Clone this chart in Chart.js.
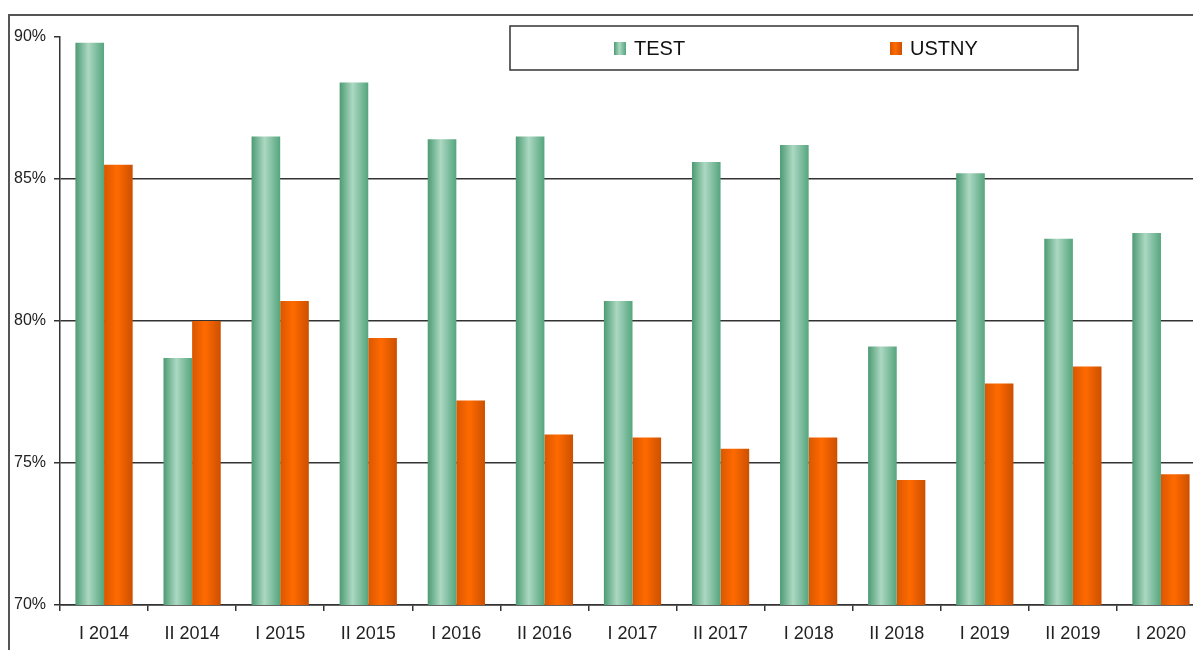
<!DOCTYPE html>
<html lang="pl">
<head>
    <meta charset="UTF-8">
    <title>TEST / USTNY</title>
    <script src="https://cdn.jsdelivr.net/npm/chart.js"></script>
    <style>
        body { margin: 0; overflow: hidden; background: #fff; width: 1193px; height: 650px; }
        #wrap { position: absolute; left: 0; top: 0; width: 1210px; height: 650px; }
    </style>
</head>
<body>
    <div id="wrap"><canvas id="chart"></canvas></div>
    <script>
        const categories = ['I 2014', 'II 2014', 'I 2015', 'II 2015', 'I 2016', 'II 2016', 'I 2017',
                            'II 2017', 'I 2018', 'II 2018', 'I 2019', 'II 2019', 'I 2020'];
        const testValues  = [89.8, 78.7, 86.5, 88.4, 86.4, 86.5, 80.7, 85.6, 86.2, 79.1, 85.2, 82.9, 83.1];
        const ustnyValues = [85.5, 80.0, 80.7, 79.4, 77.2, 76.0, 75.9, 75.5, 75.9, 74.4, 77.8, 78.4, 74.6];
        const yTicks = [70, 75, 80, 85, 90];

        const greenStops  = [[0, '#4c9b73'], [0.45, '#acd8c2'], [1, '#55a57e']];
        const orangeStops = [[0, '#d95700'], [0.45, '#ff6a00'], [1, '#cc5000']];
        const catPct = 0.65;

        // horizontal gradient per bar, positions taken from the x scale
        function barFill(stops, side) {
            return function (c) {
                const chart = c.chart;
                const xs = chart.scales.x;
                if (!xs || c.dataIndex === undefined || !chart.chartArea) return stops[1][1];
                const center = xs.getPixelForValue(c.dataIndex);
                const barW = xs.width / categories.length * catPct / 2;
                const left = side === 0 ? center - barW : center;
                const g = chart.ctx.createLinearGradient(left, 0, left + barW, 0);
                stops.forEach(s => g.addColorStop(s[0], s[1]));
                return g;
            };
        }

        const frame = {
            id: 'frame',
            beforeDraw(chart) {
                const ctx = chart.ctx;
                ctx.save();
                ctx.strokeStyle = '#555';
                ctx.lineWidth = 2;
                ctx.beginPath();
                ctx.moveTo(9, 650);
                ctx.lineTo(9, 15);
                ctx.lineTo(1210, 15);
                ctx.stroke();
                ctx.restore();
            },
            afterDraw(chart) {
                const ctx = chart.ctx;
                ctx.save();
                ctx.fillStyle = '#fff';
                ctx.fillRect(510, 26, 568, 44);
                ctx.strokeStyle = '#333';
                ctx.lineWidth = 1.5;
                ctx.strokeRect(510, 26, 568, 44);
                ctx.font = '20px "Liberation Sans Narrow", "Liberation Sans", sans-serif';
                ctx.textBaseline = 'middle';
                ctx.fillStyle = '#111';
                const items = [[614, greenStops], [890, orangeStops]];
                chart.data.datasets.forEach((ds, i) => {
                    const x = items[i][0];
                    const g = ctx.createLinearGradient(x, 0, x + 12, 0);
                    items[i][1].forEach(s => g.addColorStop(s[0], s[1]));
                    ctx.fillStyle = g;
                    ctx.fillRect(x, 42, 12, 13);
                    ctx.fillStyle = '#111';
                    ctx.fillText(ds.label, x + 20, 49);
                });
                ctx.restore();
            }
        };

        new Chart(document.getElementById('chart'), {
            type: 'bar',
            data: {
                labels: categories,
                datasets: [
                    { label: 'TEST', data: testValues, backgroundColor: barFill(greenStops, 0) },
                    { label: 'USTNY', data: ustnyValues, backgroundColor: barFill(orangeStops, 1) }
                ]
            },
            options: {
                responsive: true,
                maintainAspectRatio: false,
                animation: false,
                devicePixelRatio: 1,
                categoryPercentage: catPct,
                barPercentage: 1.0,
                layout: { padding: { left: 10, top: 37, right: 5, bottom: 0 } },
                plugins: { legend: { display: false }, tooltip: { enabled: false } },
                scales: {
                    x: {
                        afterFit: s => { s.height = 45; },
                        grid: { drawOnChartArea: false, tickLength: 6, color: '#333', lineWidth: 1.5, offset: true },
                        border: { color: '#333', width: 1.5 },
                        ticks: { color: '#222', padding: 12, maxRotation: 0,
                                 font: { family: '"Liberation Sans", sans-serif', size: 18 } }
                    },
                    y: {
                        min: 70, max: 90,
                        afterFit: s => { s.width = 50; },
                        afterBuildTicks: s => { s.ticks = yTicks.map(v => ({ value: v })); },
                        grid: {
                            color: c => (c.tick && c.tick.value === 90) ? 'rgba(0,0,0,0)' : '#333',
                            tickColor: '#333', tickLength: 6, lineWidth: 1.5
                        },
                        border: { color: '#333', width: 1.5 },
                        ticks: { color: '#222', padding: 8, callback: v => v + '%',
                                 font: { family: '"Liberation Sans", sans-serif', size: 16 } }
                    }
                }
            },
            plugins: [frame]
        });
    </script>
</body>
</html>
